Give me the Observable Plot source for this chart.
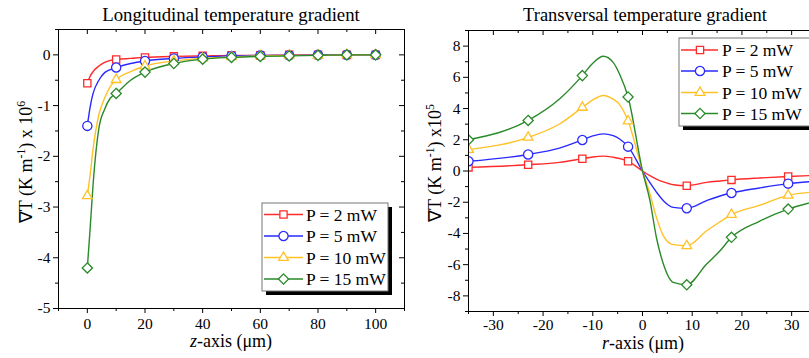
<!DOCTYPE html>
<html><head><meta charset="utf-8">
<script src="https://cdn.jsdelivr.net/npm/d3@7"></script>
<script src="https://cdn.jsdelivr.net/npm/@observablehq/plot@0.6"></script>
<style>
html,body{margin:0;padding:0;background:#fff;}
body{width:809px;height:358px;overflow:hidden;position:relative;font-family:'Liberation Serif',serif;}
#left{position:absolute;left:0;top:0;width:410px;height:358px;}
#right{position:absolute;left:410px;top:0;width:420px;height:358px;}
#left svg,#right svg{max-width:none !important;display:block;}
svg text, svg tspan{font-family:'Liberation Serif',serif !important;}
</style></head><body>
<div id="left"></div><div id="right"></div>
<script>
// ---- series definitions ----
const seriesNames = ["P = 2 mW", "P = 5 mW", "P = 10 mW", "P = 15 mW"];
const seriesColors = ["#ff2a2a", "#2a2aff", "#ffc125", "#2a8a2a"];
const seriesSymbols = ["square2", "circle", "triangle2", "diamond2"];

// ---- Longitudinal temperature gradient (x 10^6 K/m) ----
const zMarkers = [0, 10, 20, 30, 40, 50, 60, 70, 80, 90, 100];
const longMarkP2  = [-0.56, -0.09, -0.05, -0.03, -0.02, -0.01, -0.01, 0, 0, 0, 0];
const longMarkP5  = [-1.40, -0.25, -0.12, -0.07, -0.04, -0.02, -0.01, -0.01, 0, 0, 0];
const longMarkP10 = [-2.78, -0.49, -0.22, -0.12, -0.07, -0.04, -0.02, -0.01, -0.01, 0, 0];
const longMarkP15 = [-4.20, -0.76, -0.34, -0.17, -0.085, -0.05, -0.03, -0.02, -0.01, 0, 0];

const zCurve = [0, 1, 2, 4, 6, 8, 10, 15, 20, 30, 40, 50, 60, 70, 80, 90, 100];
const longCurveP2  = [-0.56, -0.42, -0.33, -0.22, -0.15, -0.11, -0.09, -0.07, -0.05, -0.03, -0.02, -0.01, -0.01, 0, 0, 0, 0];
const longCurveP5  = [-1.40, -1.02, -0.76, -0.50, -0.35, -0.29, -0.25, -0.17, -0.12, -0.07, -0.04, -0.02, -0.01, -0.01, 0, 0, 0];
const longCurveP10 = [-2.78, -2.35, -1.85, -1.18, -0.85, -0.62, -0.49, -0.33, -0.22, -0.12, -0.07, -0.04, -0.02, -0.01, -0.01, 0, 0];
const longCurveP15 = [-4.20, -3.40, -2.55, -1.45, -1.07, -0.85, -0.76, -0.50, -0.34, -0.17, -0.085, -0.05, -0.03, -0.02, -0.01, 0, 0];

const zTicksMajor = [0, 20, 40, 60, 80, 100];
const zTicksMinor = [-10, 10, 30, 50, 70, 90, 110];
const longTicksMajor = [-5, -4, -3, -2, -1, 0];
const longTicksMinor = [-4.5, -3.5, -2.5, -1.5, -0.5, 0.5];

// ---- Transversal temperature gradient (x 10^5 K/m) ----
const rMarkers = [-35, -23, -12.1, -2.9, 8.9, 17.9, 29.3];
const tranMarkP2  = [0.23, 0.40, 0.79, 0.62, -0.94, -0.57, -0.35];
const tranMarkP5  = [0.62, 1.06, 1.99, 1.56, -2.39, -1.41, -0.81];
const tranMarkP10 = [1.37, 2.15, 4.07, 3.20, -4.79, -2.79, -1.56];
const tranMarkP15 = [2.00, 3.24, 6.11, 4.74, -7.29, -4.25, -2.44];

const rCurve = [-35, -23, -16.7, -12.1, -10, -7.9, -5.9, -4.6, -2.9, 0, 1.5, 2.8, 4.2, 6.2, 8.9, 12.9, 15.6, 17.9, 23.5, 29.3, 35];
const tranCurveP2  = [0.23, 0.40, 0.55, 0.79, 0.90, 0.95, 0.88, 0.80, 0.62, 0, -0.30, -0.52, -0.70, -0.88, -0.94, -0.73, -0.64, -0.57, -0.45, -0.35, -0.28];
const tranCurveP5  = [0.62, 1.06, 1.47, 1.99, 2.25, 2.38, 2.26, 2.05, 1.56, 0, -0.75, -1.35, -1.90, -2.33, -2.39, -1.90, -1.60, -1.41, -1.09, -0.81, -0.65];
const tranCurveP10 = [1.37, 2.15, 3.01, 4.07, 4.55, 4.84, 4.60, 4.25, 3.20, 0, -1.48, -2.97, -4.15, -4.72, -4.79, -3.83, -3.25, -2.79, -2.20, -1.56, -1.33];
const tranCurveP15 = [2.00, 3.24, 4.61, 6.11, 6.90, 7.35, 6.96, 6.20, 4.74, 0, -1.90, -4.26, -5.96, -7.14, -7.29, -5.96, -5.11, -4.25, -3.22, -2.44, -1.92];

const rTicksMajor = [-30, -20, -10, 0, 10, 20, 30];
const rTicksMinor = [-35, -25, -15, -5, 5, 15, 25, 35];
const tranTicksMajor = [-8, -6, -4, -2, 0, 2, 4, 6, 8];
const tranTicksMinor = [-9, -7, -5, -3, -1, 1, 3, 5, 7, 9];

// ---- build tables ----
function table(xs, cols) {
  const out = [];
  cols.forEach((col, i) => col.forEach((v, j) => out.push({x: xs[j], y: v, series: seriesNames[i]})));
  return out;
}
const longMarks = table(zMarkers, [longMarkP2, longMarkP5, longMarkP10, longMarkP15]);
const longCurve = table(zCurve, [longCurveP2, longCurveP5, longCurveP10, longCurveP15]);
const tranMarks = table(rMarkers, [tranMarkP2, tranMarkP5, tranMarkP10, tranMarkP15]);
const tranCurve = table(rCurve, [tranCurveP2, tranCurveP5, tranCurveP10, tranCurveP15]);

const fmt = d => String(d);
const FONT = "'Liberation Serif', serif";

function panel({width, height, mL, mR, mT, mB, xDomain, yDomain, xMaj, xMin, yMaj, yMin, curve, marks, clip, xPad}) {
  const pw = width - mL - mR, ph = height - mT - mB;
  return Plot.plot({
    width, height, marginLeft: mL, marginRight: mR, marginTop: mT, marginBottom: mB,
    x: {domain: xDomain}, y: {domain: yDomain},
    color: {domain: seriesNames, range: seriesColors},
    symbol: {domain: seriesNames, range: seriesSymbols},
    style: {fontFamily: FONT, fontSize: "15.5px", background: "white", color: "black", maxWidth: "none"},
    marks: [
      Plot.line(curve, {x: "x", y: "y", z: "series", stroke: "series", curve: "monotone-x", strokeWidth: 1.4, clip}),
      Plot.dot(marks, {x: "x", y: "y", stroke: "series", symbol: "series", fill: "white", r: 4.6, strokeWidth: 1.3, clip}),
      Plot.axisX(xMaj, {tickSize: 5, tickPadding: xPad, tickFormat: fmt, label: null}),
      Plot.axisX(xMin, {tickSize: 3, tickFormat: () => "", label: null}),
      Plot.axisY(yMaj, {tickSize: 5, tickPadding: 3, tickFormat: fmt, label: null}),
      Plot.axisY(yMin, {tickSize: 3, tickFormat: () => "", label: null}),
      Plot.tickX(xMaj, {x: d => d, insetBottom: ph - 5, stroke: "black"}),
      Plot.tickX(xMin, {x: d => d, insetBottom: ph - 3, stroke: "black"}),
      Plot.tickY(yMaj, {y: d => d, insetLeft: pw - 5, stroke: "black"}),
      Plot.tickY(yMin, {y: d => d, insetLeft: pw - 3, stroke: "black"}),
      Plot.frame({stroke: "black", strokeWidth: 1})
    ]
  });
}

function addText(svg, {x, y, parts, rotate = false, size = 18}) {
  const t = d3.select(svg).append("text")
    .attr("text-anchor", "middle")
    .attr("font-family", FONT).attr("font-size", size).attr("fill", "black")
    .attr("transform", rotate ? `translate(${x},${y}) rotate(-90)` : `translate(${x},${y})`);
  parts.forEach(p => {
    const s = t.append("tspan").text(p.t);
    if (p.italic) s.attr("font-style", "italic");
    if (p.sup) s.attr("font-size", size * 0.65).attr("dy", -size * 0.38);
    if (p.after) s.attr("dy", size * 0.38);
  });
}

function addLegend(svg, {x0, y0, w, h, rows, lineX1, lineX2, markX, textX}) {
  const g = d3.select(svg).append("g");
  g.append("rect").attr("x", x0 + 4).attr("y", y0 + 4).attr("width", w).attr("height", h).attr("fill", "black");
  g.append("rect").attr("x", x0).attr("y", y0).attr("width", w).attr("height", h)
    .attr("fill", "white").attr("stroke", "#777").attr("stroke-width", 1);
  const symMap = {square2: d3.symbolSquare2, circle: d3.symbolCircle, triangle2: d3.symbolTriangle2, diamond2: d3.symbolDiamond2};
  seriesNames.forEach((name, i) => {
    const yy = rows[i];
    g.append("line").attr("x1", lineX1).attr("x2", lineX2).attr("y1", yy).attr("y2", yy)
      .attr("stroke", seriesColors[i]).attr("stroke-width", 1.4);
    g.append("path").attr("d", d3.symbol(symMap[seriesSymbols[i]], Math.PI * 4.6 * 4.6)())
      .attr("transform", `translate(${markX},${yy})`)
      .attr("fill", "white").attr("stroke", seriesColors[i]).attr("stroke-width", 1.3);
    g.append("text").attr("x", textX).attr("y", yy + 6).attr("text-anchor", "start")
      .attr("font-family", FONT).attr("font-size", 17.5)
      .attr("fill", "black").text(name);
  });
}

// ---- left panel ----
const left = panel({
  width: 410, height: 358, mL: 58, mR: 6, mT: 29, mB: 50,
  xDomain: [-10, 110], yDomain: [-5, 0.5],
  xMaj: zTicksMajor, xMin: zTicksMinor, yMaj: longTicksMajor, yMin: longTicksMinor,
  curve: longCurve, marks: longMarks, clip: false, xPad: 4
});
addText(left, {x: 231, y: 21, size: 18.8, parts: [{t: "Longitudinal temperature gradient"}]});
addText(left, {x: 231, y: 347, parts: [{t: "z", italic: true}, {t: "-axis (μm)"}]});
addText(left, {x: 32, y: 162, rotate: true, parts: [{t: "∇T (K m"}, {t: "-1", sup: true}, {t: ") x 10", after: true}, {t: "6", sup: true}]});
addLegend(left, {x0: 262, y0: 203, w: 126, h: 88, rows: [214.5, 236, 257.5, 279], lineX1: 264, lineX2: 303, markX: 283.5, textX: 306});
document.getElementById("left").appendChild(left);

// ---- right panel ----
const right = panel({
  width: 420, height: 358, mL: 58, mR: 14, mT: 30, mB: 47,
  xDomain: [-35, 35], yDomain: [-9, 9],
  xMaj: rTicksMajor, xMin: rTicksMinor, yMaj: tranTicksMajor, yMin: tranTicksMinor,
  curve: tranCurve, marks: tranMarks, clip: true, xPad: 2
});
addText(right, {x: 235, y: 21, size: 18.5, parts: [{t: "Transversal temperature gradient"}]});
addText(right, {x: 233, y: 349, parts: [{t: "r", italic: true}, {t: "-axis (μm)"}]});
addText(right, {x: 31, y: 163, rotate: true, parts: [{t: "∇T (K m"}, {t: "-1", sup: true}, {t: ") x10", after: true}, {t: "5", sup: true}]});
addLegend(right, {x0: 269, y0: 38, w: 134, h: 88, rows: [50, 71, 92.5, 113.5], lineX1: 271, lineX2: 308, markX: 290, textX: 312});
document.getElementById("right").appendChild(right);
</script>
</body></html>
